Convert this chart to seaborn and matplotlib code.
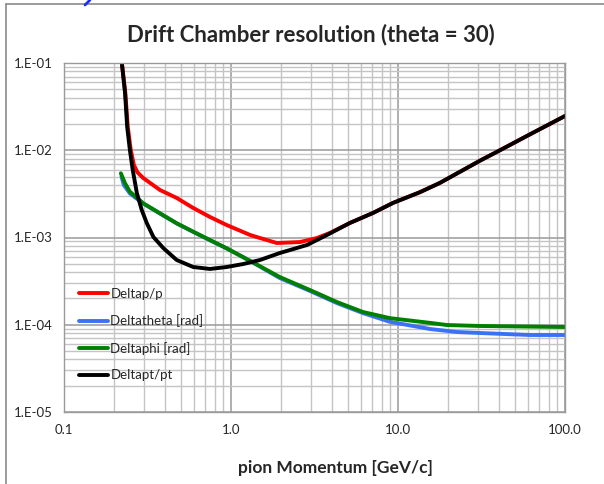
"""
Drift Chamber resolution vs pion momentum (theta = 30), log-log.
"""

import matplotlib
matplotlib.use("Agg")
import matplotlib.pyplot as plt
import matplotlib.ticker as mticker
from matplotlib.lines import Line2D
import seaborn as sns
import pandas as pd
import numpy as np

# --- data ---
p_dp = [0.222, 0.233, 0.241, 0.251, 0.262, 0.275, 0.298, 0.376, 0.473, 0.594,
        0.748, 0.942, 1.30, 1.49, 1.88, 2.59, 3.27, 3.92, 4.50, 5.16, 7.08,
        9.33, 13.5, 17.8, 31.0, 40.8, 59.2, 100.0]
dp = [0.1, 0.0453, 0.0185, 0.0101, 0.0068, 0.0056, 0.00481, 0.0035, 0.00284,
      0.00218, 0.00172, 0.00139, 0.00107, 0.000987, 0.000865, 0.000887,
      0.000987, 0.00113, 0.00129, 0.00147, 0.00191, 0.00249, 0.0033, 0.00422,
      0.0076, 0.0100, 0.0146, 0.0247]

p_dtheta = [0.221, 0.228, 0.248, 0.298, 0.376, 0.473, 0.594, 0.748, 0.942,
            1.30, 1.96, 2.97, 4.31, 6.17, 8.95, 15.6, 22.5, 31.0, 61.7, 100.0]
dtheta = [0.00498, 0.0040, 0.0032, 0.00245, 0.00188, 0.00145, 0.00116,
          0.00093, 0.00075, 0.00054, 0.000343, 0.000244, 0.000177, 0.000136,
          0.000108, 0.0000893, 0.0000826, 0.0000804, 0.0000763, 0.0000763]

p_dphi = [0.219, 0.232, 0.248, 0.298, 0.376, 0.473, 0.594, 0.748, 0.942, 1.30,
          1.96, 2.97, 4.31, 6.17, 8.95, 15.6, 19.6, 31.0, 100.0]
dphi = [0.00544, 0.00418, 0.00335, 0.00247, 0.00189, 0.001455, 0.001165,
        0.000936, 0.000752, 0.00054, 0.000352, 0.00025, 0.000182, 0.00014,
        0.000119, 0.000105, 0.0000993, 0.0000968, 0.0000942]

p_dpt = [0.222, 0.232, 0.239, 0.248, 0.258, 0.273, 0.292, 0.313, 0.343, 0.393,
         0.473, 0.594, 0.748, 0.942, 1.185, 1.49, 1.96, 2.85, 3.76, 5.16, 7.08,
         9.33, 13.5, 17.8, 31.0, 40.8, 59.2, 100.0]
dpt = [0.1, 0.0453, 0.01846, 0.01007, 0.00594, 0.00324, 0.00207, 0.001466,
       0.001014, 0.000758, 0.000552, 0.000459, 0.000436, 0.000459, 0.000497,
       0.000552, 0.000664, 0.00082, 0.00107, 0.00147, 0.00191, 0.00249,
       0.0033, 0.00422, 0.0076, 0.0100, 0.0146, 0.0247]

series_names = ["Deltap/p", "Deltatheta [rad]", "Deltaphi [rad]", "Deltapt/pt"]
series_colors = ["#ff0000", "#3b72f5", "#008000", "#000000"]

x_ticks = [0.1, 1.0, 10.0, 100.0]
y_ticks = [1e-5, 1e-4, 1e-3, 1e-2, 1e-1]

# --- style ---
sns.set_style("white")
plt.rcParams['font.family'] = ['Lato', 'DejaVu Sans']

fig = plt.figure(figsize=(6.04, 4.84), dpi=100)
ax = fig.add_axes([64 / 604, 1 - 412 / 484, 501 / 604, 349 / 484])

frames = [
    pd.DataFrame({"p": p_dp, "res": dp}),
    pd.DataFrame({"p": p_dtheta, "res": dtheta}),
    pd.DataFrame({"p": p_dphi, "res": dphi}),
    pd.DataFrame({"p": p_dpt, "res": dpt}),
]
for df, name, col in zip(frames, series_names, series_colors):
    sns.lineplot(data=df, x="p", y="res", ax=ax, color=col, linewidth=2.8,
                 sort=False, estimator=None, label=name)

ax.set_xscale("log")
ax.set_yscale("log")
ax.set_xlim(0.1, 100)
ax.set_ylim(1e-5, 1e-1)

ax.xaxis.set_major_locator(mticker.FixedLocator(x_ticks))
ax.yaxis.set_major_locator(mticker.FixedLocator(y_ticks))
ax.xaxis.set_minor_locator(mticker.LogLocator(base=10, subs=np.arange(2, 10)))
ax.yaxis.set_minor_locator(mticker.LogLocator(base=10, subs=np.arange(2, 10)))
ax.xaxis.set_major_formatter(mticker.FuncFormatter(lambda v, _: f"{v:.1f}"))
ax.yaxis.set_major_formatter(
    mticker.FuncFormatter(lambda v, _: f"1.E-{abs(int(round(np.log10(v)))):02d}"))
ax.xaxis.set_minor_formatter(mticker.NullFormatter())
ax.yaxis.set_minor_formatter(mticker.NullFormatter())

ax.grid(True, which="major", color="#9a9a9a", linewidth=1.1)
ax.grid(True, which="minor", color="#c4c4c4", linewidth=1.0)
ax.set_axisbelow(True)
for s in ax.spines.values():
    s.set_color("#9a9a9a")
    s.set_linewidth(1.0)

ax.tick_params(which="major", direction="out", length=4, width=1,
               color="#9a9a9a", labelsize=9.5, pad=4)
ax.tick_params(which="minor", length=0)
ax.tick_params(axis="x", pad=5)

ax.set_ylabel("")
ax.set_xlabel("pion Momentum [GeV/c]", fontsize=12.5, fontweight="bold")
ax.xaxis.set_label_coords(0.541, -0.137)

fig.text(0.515, 0.929, "Drift Chamber resolution (theta = 30)",
         ha="center", va="center", fontsize=16, fontweight="bold")

leg = ax.legend(loc="upper left", bbox_to_anchor=(0.012, 0.382), frameon=False,
                fontsize=9.5, handlelength=2.15, handletextpad=0.2,
                labelspacing=1.1, borderaxespad=0.3)

# slide frame lines and the stray mark at the top
fig.add_artist(Line2D([6 / 604, 6 / 604], [0, 1 - 4 / 484],
                      transform=fig.transFigure, color="#8a8a8a", lw=1.2))
fig.add_artist(Line2D([6 / 604, 1], [1 - 4 / 484, 1 - 4 / 484],
                      transform=fig.transFigure, color="#8a8a8a", lw=1.2))
fig.add_artist(Line2D([85 / 604, 90 / 604], [1 - 5 / 484, 1],
                      transform=fig.transFigure, color="#1f2ff0", lw=2))

fig.savefig("out.png", dpi=100)
